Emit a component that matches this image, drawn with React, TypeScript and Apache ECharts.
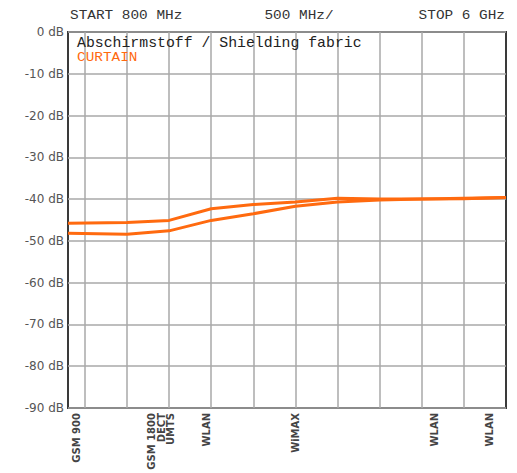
import React, { useEffect, useRef } from "react";
import * as echarts from "echarts";

// Frequency sampling points (MHz) and the two measured attenuation traces (dB)
const freqMHz = [800, 1500, 2000, 2500, 3000, 3500, 4000, 4500, 5000, 5500, 6000];
const upperDb = [-45.8, -45.6, -45.1, -42.3, -41.3, -40.7, -39.8, -40.0, -40.0, -39.8, -39.6];
const lowerDb = [-48.2, -48.4, -47.6, -45.1, -43.5, -41.7, -40.7, -40.2, -40.0, -39.9, -39.6];

// Vertical graticule (500 MHz / div)
const gridFreqs = [1000, 1500, 2000, 2500, 3000, 3500, 4000, 4500, 5000, 5500];

// Band markers under the x axis
const bandFreqs = [900, 1790, 1905, 2015, 2450, 3500, 5150, 5800];
const bandLabels = ["GSM 900", "GSM 1800", "DECT", "UMTS", "WLAN", "WiMAX", "WLAN", "WLAN"];

// Axis ranges
const freqMin = 800;
const freqMax = 6000;
const dbMin = -90;
const dbMax = 0;
const dbStep = 10;

// Texts
const headerLeft = "START 800 MHz";
const headerMid = "500 MHz/";
const headerRight = "STOP 6 GHz";
const titleText = "Abschirmstoff / Shielding fabric";
const subtitleText = "CURTAIN";

const ORANGE = "#ff6a0f";

export default function App() {
  const ref = useRef<HTMLDivElement>(null);

  useEffect(() => {
    if (!ref.current) return;
    const chart = echarts.init(ref.current, undefined, { renderer: "svg" });
    const mono = "'Liberation Mono', 'DejaVu Sans Mono', monospace";
    const sans = "'DejaVu Sans', sans-serif";

    chart.setOption({
      animation: false,
      backgroundColor: "#ffffff",
      grid: {
        left: 68,
        right: 11,
        top: 32,
        bottom: 65,
        show: true,
        borderColor: "#3a3a3a",
        borderWidth: 2,
        backgroundColor: "transparent",
      },
      xAxis: {
        type: "value",
        min: freqMin,
        max: freqMax,
        axisLine: { show: false },
        axisTick: { show: false },
        splitLine: { show: false },
        axisLabel: {
          customValues: bandFreqs,
          rotate: 90,
          margin: 5,
          hideOverlap: false,
          fontFamily: sans,
          fontSize: 10,
          fontWeight: "bold",
          color: "#444444",
          formatter: (v: number) => {
            const i = bandFreqs.indexOf(v);
            return i >= 0 ? bandLabels[i] : "";
          },
        },
      },
      yAxis: {
        type: "value",
        min: dbMin,
        max: dbMax,
        interval: dbStep,
        axisLine: { show: false },
        axisTick: { show: false },
        splitLine: { show: true, lineStyle: { color: "#a8a8a8", width: 1.5 } },
        axisLabel: {
          margin: 4,
          fontFamily: sans,
          fontSize: 12,
          color: "#555555",
          formatter: (v: number) => `${v} dB`,
        },
      },
      graphic: [
        {
          type: "text",
          x: 70,
          y: 16,
          scaleX: 1.2,
          style: { text: headerLeft, font: `12px ${mono}`, fill: "#333", textAlign: "left", textVerticalAlign: "middle" },
        },
        {
          type: "text",
          x: 299,
          y: 16,
          scaleX: 1.2,
          style: { text: headerMid, font: `12px ${mono}`, fill: "#333", textAlign: "center", textVerticalAlign: "middle" },
        },
        {
          type: "text",
          x: 505,
          y: 16,
          scaleX: 1.2,
          style: { text: headerRight, font: `12px ${mono}`, fill: "#333", textAlign: "right", textVerticalAlign: "middle" },
        },
        {
          type: "text",
          x: 77,
          y: 43,
          scaleX: 1.06,
          z: 100,
          style: { text: titleText, font: `14px ${mono}`, fill: "#222", textAlign: "left", textVerticalAlign: "middle" },
        },
        {
          type: "text",
          x: 77,
          y: 58,
          scaleX: 1.2,
          z: 100,
          style: { text: subtitleText, font: `12px ${mono}`, fill: ORANGE, textAlign: "left", textVerticalAlign: "middle" },
        },
      ],
      series: [
        {
          type: "line",
          data: freqMHz.map((f, i) => [f, upperDb[i]]),
          showSymbol: false,
          lineStyle: { color: ORANGE, width: 3 },
          z: 5,
          markLine: {
            silent: true,
            symbol: "none",
            label: { show: false },
            lineStyle: { color: "#a8a8a8", width: 1.5, type: "solid" },
            data: gridFreqs.map((f) => ({ xAxis: f })),
            z: 1,
          },
        },
        {
          type: "line",
          data: freqMHz.map((f, i) => [f, lowerDb[i]]),
          showSymbol: false,
          lineStyle: { color: ORANGE, width: 3 },
          z: 5,
        },
      ],
    });

    return () => chart.dispose();
  }, []);

  return (
    <div
      ref={ref}
      style={{ position: "fixed", left: 0, top: 0, width: 517, height: 473 }}
    />
  );
}
